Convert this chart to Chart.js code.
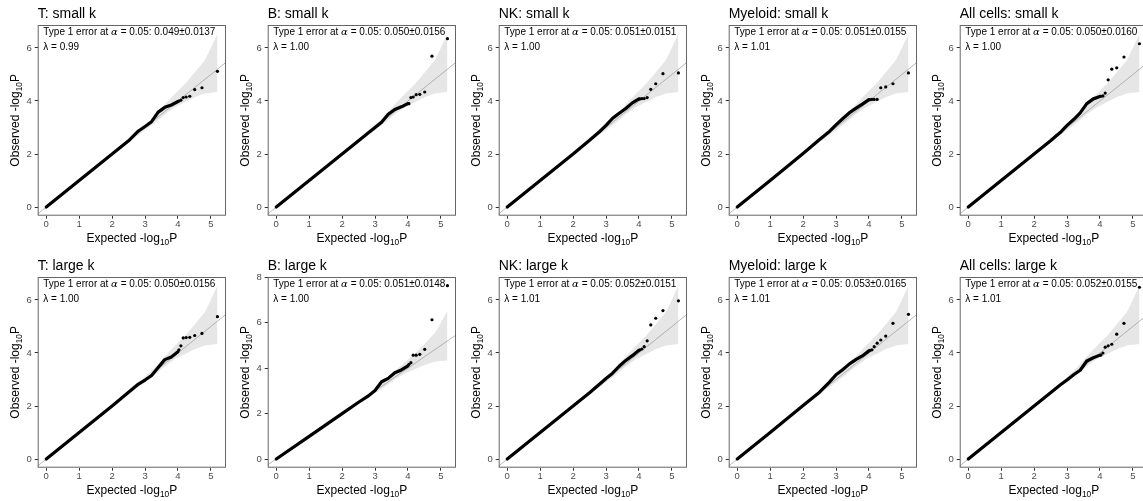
<!DOCTYPE html>
<html>
<head>
<meta charset="utf-8">
<script src="https://cdn.jsdelivr.net/npm/chart.js@4.4.1/dist/chart.umd.min.js"></script>
<style>
  body { margin: 0; background: #fff; overflow: hidden; width: 1143px; height: 501px; position: relative; }
  canvas { position: absolute; }
</style>
</head>
<body>
<script>
// panel labels
const cellTypes = ['T', 'B', 'NK', 'Myeloid', 'All cells'];
const kLabels = ['small k', 'large k'];
const errMean = ['0.049', '0.050', '0.051', '0.051', '0.050', '0.050', '0.051', '0.052', '0.053', '0.052'];
const errSd = ['0.0137', '0.0156', '0.0151', '0.0155', '0.0160', '0.0156', '0.0148', '0.0151', '0.0165', '0.0155'];
const lambdaVals = ['0.99', '1.00', '1.00', '1.01', '1.00', '1.00', '1.00', '1.01', '1.01', '1.01'];

// dense part of the QQ curve (expected vs observed -log10 P)
const curveX = [0, 1, 2, 2.5, 2.8, 3.0, 3.2, 3.4, 3.6, 3.8, 4.0];
const tSmallCurve = [0, 1, 2, 2.5, 2.87, 3.04, 3.22, 3.58, 3.76, 3.85, 3.98];
const bSmallCurve = [0, 1, 2, 2.5, 2.8, 3.0, 3.2, 3.5, 3.68, 3.78, 3.9];
const nkSmallCurve = [0, 1, 2, 2.52, 2.84, 3.08, 3.35, 3.54, 3.72, 3.93, 4.08];
const mySmallCurve = [0, 1, 2.02, 2.55, 2.85, 3.1, 3.33, 3.55, 3.72, 3.88, 4.05];
const allSmallCurve = [0, 1, 2, 2.5, 2.82, 3.08, 3.3, 3.55, 3.9, 4.08, 4.17];
const tLargeCurve = [0, 1, 2, 2.52, 2.83, 2.98, 3.15, 3.45, 3.75, 3.85, 4.05];
const bLargeCurve = [0, 1, 2, 2.5, 2.78, 3.02, 3.4, 3.55, 3.8, 3.92, 4.1];
const nkLargeCurve = [0, 1, 2, 2.5, 2.82, 3.04, 3.24, 3.5, 3.72, 3.9, 4.1];
const myLargeCurve = [0, 1, 2.02, 2.52, 2.9, 3.18, 3.37, 3.58, 3.75, 3.89, 4.08];
const allLargeCurve = [0, 1, 2, 2.5, 2.8, 2.98, 3.18, 3.35, 3.7, 3.82, 3.92];

// sparse top points
const tailX = [5.2, 4.73, 4.51, 4.36, 4.25, 4.16, 4.09, 4.03];
const tSmallTail = [5.12, 4.5, 4.43, 4.18, 4.15, 4.13, 4.03, 4.0];
const bSmallTail = [6.35, 5.69, 4.34, 4.25, 4.24, 4.15, 4.13, 3.9];
const nkSmallTail = [5.06, 5.03, 4.65, 4.44, 4.13, 4.09, 4.09, 4.08];
const mySmallTail = [5.06, 4.65, 4.53, 4.5, 4.06, 4.06, 4.06, 4.05];
const allSmallTail = [6.16, 5.66, 5.25, 5.2, 4.8, 4.3, 4.19, 4.18];
const tLargeTail = [5.37, 4.74, 4.66, 4.59, 4.58, 4.57, 4.27, 4.12];
const bLargeTail = [7.63, 6.13, 4.83, 4.61, 4.57, 4.57, 4.24, 4.17];
const nkLargeTail = [5.97, 5.6, 5.31, 5.06, 4.46, 4.24, 4.15, 4.12];
const myLargeTail = [5.46, 5.12, 4.64, 4.49, 4.37, 4.24, 4.12, 4.1];
const allLargeTail = [6.48, 5.12, 4.71, 4.33, 4.27, 4.22, 4.0, 3.92];

// confidence band
const bandX = [2.0, 2.5, 3.0, 3.3, 3.62, 3.92, 4.22, 4.52, 4.82, 4.92, 5.2];
const bandUpper = [2.03, 2.56, 3.1, 3.45, 3.9, 4.28, 4.65, 5.09, 5.55, 5.79, 6.54];
const bandLower = [1.97, 2.45, 2.9, 3.18, 3.52, 3.77, 3.96, 4.15, 4.28, 4.3, 4.34];

const xTicks = [0, 1, 2, 3, 4, 5];
const yTickVals = [0, 2, 4, 6, 8];
const refRange = [-1, 10];

const curves = [tSmallCurve, bSmallCurve, nkSmallCurve, mySmallCurve, allSmallCurve,
                tLargeCurve, bLargeCurve, nkLargeCurve, myLargeCurve, allLargeCurve];
const tails = [tSmallTail, bSmallTail, nkSmallTail, mySmallTail, allSmallTail,
               tLargeTail, bLargeTail, nkLargeTail, myLargeTail, allLargeTail];

const FONT = '"Liberation Sans", Arial, sans-serif';
const W = 230, H = 252;

function drawSubText(ctx, x, y, pre, sub, post, size) {
  const subSize = size * 0.7;
  ctx.font = size + 'px ' + FONT;
  const w1 = ctx.measureText(pre).width;
  const w3 = ctx.measureText(post).width;
  ctx.font = subSize + 'px ' + FONT;
  const w2 = ctx.measureText(sub).width;
  let cx = x - (w1 + w2 + w3) / 2;
  ctx.textAlign = 'left';
  ctx.textBaseline = 'alphabetic';
  ctx.font = size + 'px ' + FONT;
  ctx.fillText(pre, cx, y); cx += w1;
  ctx.font = subSize + 'px ' + FONT;
  ctx.fillText(sub, cx, y + size * 0.25); cx += w2;
  ctx.font = size + 'px ' + FONT;
  ctx.fillText(post, cx, y);
}

const decor = {
  id: 'decor',
  afterDraw(chart, args, opts) {
    const ctx = chart.ctx;
    const a = chart.chartArea;
    ctx.save();
    // panel border
    ctx.strokeStyle = '#666';
    ctx.lineWidth = 1;
    ctx.strokeRect(a.left + 0.5, a.top + 0.5, a.right - a.left - 1, a.bottom - a.top - 1);
    ctx.fillStyle = '#000';
    // panel title
    ctx.font = '14px ' + FONT;
    ctx.textAlign = 'left';
    ctx.textBaseline = 'alphabetic';
    ctx.fillText(opts.title, a.left, 17.7);
    // annotation
    ctx.font = '10px ' + FONT;
    let tx = a.left + 5.6;
    const ty = a.top + 9.5;
    const p1 = 'Type 1 error at ';
    ctx.fillText(p1, tx, ty); tx += ctx.measureText(p1).width;
    ctx.font = 'italic 10px "DejaVu Serif", serif';
    ctx.fillText('α', tx, ty); tx += ctx.measureText('α').width;
    ctx.font = '10px ' + FONT;
    ctx.fillText(' = 0.05: ' + opts.mean + '±' + opts.sd, tx, ty);
    ctx.fillText('λ = ' + opts.lambda, a.left + 5.6, a.top + 24.5);
    // axis titles
    drawSubText(ctx, (a.left + a.right) / 2, 241.5, 'Expected -log', '10', 'P', 12);
    ctx.translate(19, (a.top + a.bottom) / 2);
    ctx.rotate(-Math.PI / 2);
    drawSubText(ctx, 0, 0, 'Observed -log', '10', 'P', 12);
    ctx.restore();
  }
};

const xMaxData = Math.max(...tailX);

for (let p = 0; p < 10; p++) {
  const row = Math.floor(p / 5), col = p % 5;
  const canvas = document.createElement('canvas');
  canvas.width = W; canvas.height = H;
  canvas.style.left = Math.round(col * 230.4) + 'px';
  canvas.style.top = (row * 252) + 'px';
  document.body.appendChild(canvas);

  const yMaxData = Math.max(...tails[p], ...bandUpper);
  const yMin = -0.05 * yMaxData, yMax = 1.05 * yMaxData;
  const yTicks = yTickVals.filter(v => v <= yMax);

  new Chart(canvas, {
    type: 'line',
    data: {
      datasets: [
        {
          data: tailX.map((x, i) => ({ x: x, y: tails[p][i] })),
          showLine: false, pointRadius: 1.6, pointBackgroundColor: '#000',
          pointBorderWidth: 0, borderWidth: 0, order: 0, clip: 4
        },
        {
          data: curveX.map((x, i) => ({ x: x, y: curves[p][i] })),
          borderColor: '#000', borderWidth: 3.2, pointRadius: 0, tension: 0,
          borderCapStyle: 'round', borderJoinStyle: 'round', order: 1, fill: false
        },
        {
          data: refRange.map(v => ({ x: v, y: v })),
          borderColor: '#9a9a9a', borderWidth: 0.7, pointRadius: 0, order: 2, fill: false
        },
        {
          data: bandX.map((x, i) => ({ x: x, y: bandLower[i] })),
          borderWidth: 0, pointRadius: 0, order: 3, fill: false
        },
        {
          data: bandX.map((x, i) => ({ x: x, y: bandUpper[i] })),
          borderWidth: 0, pointRadius: 0, order: 3, fill: '-1',
          backgroundColor: '#e6e6e6'
        }
      ]
    },
    options: {
      responsive: false,
      animation: false,
      layout: { padding: { top: 25, right: 1.7, left: 0, bottom: 0 } },
      plugins: {
        legend: { display: false },
        tooltip: { enabled: false },
        title: { display: false },
        decor: {
          title: cellTypes[col] + ': ' + kLabels[row],
          mean: errMean[p], sd: errSd[p], lambda: lambdaVals[p]
        }
      },
      scales: {
        x: {
          type: 'linear', min: -0.05 * xMaxData, max: 1.05 * xMaxData,
          afterBuildTicks: s => { s.ticks = xTicks.map(v => ({ value: v })); },
          afterFit: s => { s.height = 36.3; },
          grid: { drawOnChartArea: false, drawTicks: true, tickLength: 3, color: '#333' },
          border: { display: false },
          ticks: { color: '#4d4d4d', padding: 0, font: { family: FONT, size: 9.5 }, maxRotation: 0 }
        },
        y: {
          type: 'linear', min: yMin, max: yMax,
          afterBuildTicks: s => { s.ticks = yTicks.map(v => ({ value: v })); },
          afterFit: s => { s.width = 37.7; },
          grid: { drawOnChartArea: false, drawTicks: true, tickLength: 3, color: '#333' },
          border: { display: false },
          ticks: { color: '#4d4d4d', padding: 3, font: { family: FONT, size: 9.5 } }
        }
      }
    },
    plugins: [decor]
  });
}
</script>
</body>
</html>
